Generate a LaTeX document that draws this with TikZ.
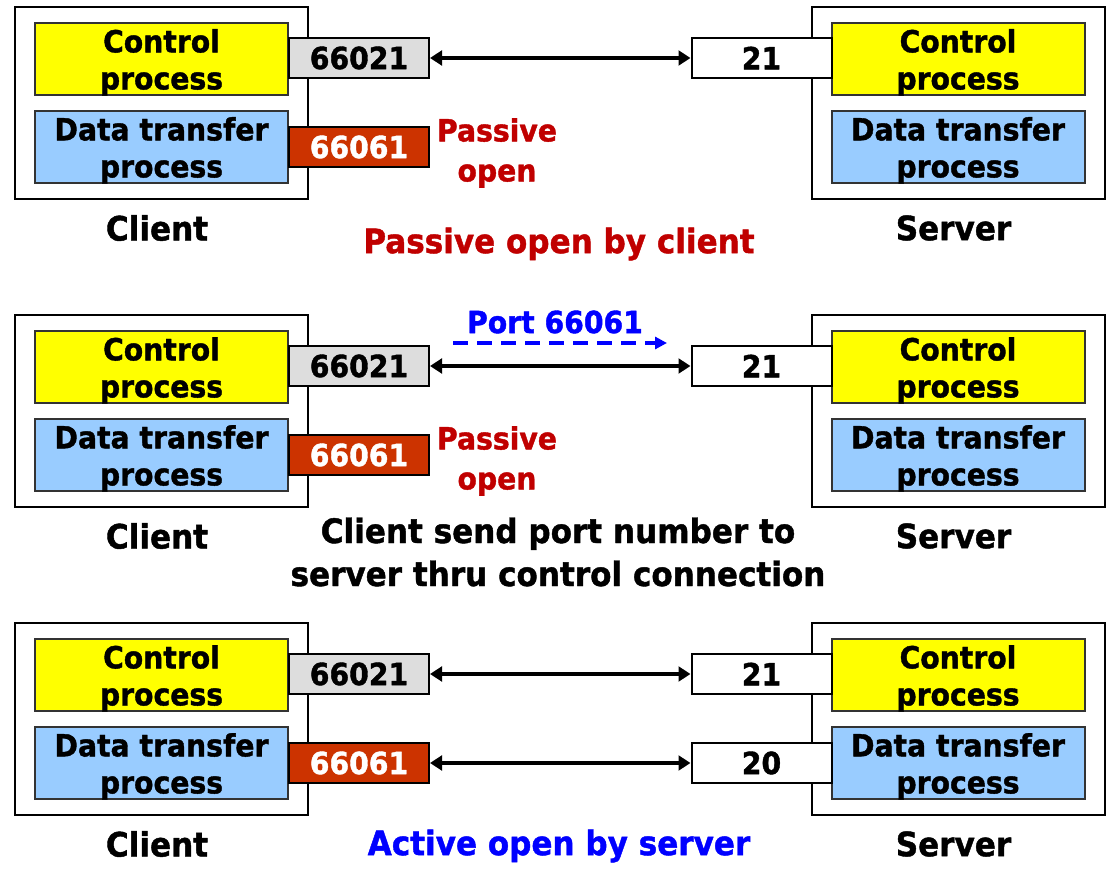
\documentclass[tikz,border=0pt]{standalone}
\usepackage{fontspec}
\setmainfont{DejaVu Sans}[BoldFeatures={FakeBold=1.3}]
\usepackage{graphicx}
\usetikzlibrary{arrows.meta}
\definecolor{ctrlyellow}{HTML}{FFFF00}
\definecolor{datablue}{HTML}{99CCFF}
\definecolor{portgray}{HTML}{DDDDDD}
\definecolor{portred}{HTML}{CC3300}
\definecolor{capred}{HTML}{C00000}
\definecolor{capblue}{HTML}{0000FF}
\newcommand\sv[1]{\scalebox{1}[1.08]{#1}}
\begin{document}
\begin{tikzpicture}[x=0.75pt,y=-0.75pt,
  outerbox/.style={draw=black,line width=1.6pt,minimum width=219.75pt,minimum height=144pt,inner sep=0pt},
  procbox/.style={draw=black!80,line width=1.5pt,minimum width=189.75pt,minimum height=54pt,inner sep=0pt},
  ctrlbox/.style={procbox,fill=ctrlyellow},
  databox/.style={procbox,fill=datablue},
  boxtxt/.style={font=\fontsize{21.2}{27.75}\selectfont\bfseries,align=center,inner sep=0pt,yshift=-2.6pt},
  portbox/.style={draw=black,line width=1.5pt,minimum width=105pt,minimum height=30pt,inner sep=0pt,font=\fontsize{21.2}{25}\selectfont\bfseries},
  greyport/.style={portbox,fill=portgray},
  redport/.style={portbox,fill=portred,text=white},
  whiteport/.style={portbox,fill=white},
  caption/.style={font=\fontsize{23.3}{32.25}\selectfont\bfseries,align=center,inner sep=0pt},
  smallcap/.style={font=\fontsize{21.2}{30}\selectfont\bfseries,align=center,inner sep=0pt},
  conn/.style={line width=2.4pt,{Triangle[length=9pt,width=11pt]}-{Triangle[length=9pt,width=11pt]}},
  portmsg/.style={draw=capblue,line width=3pt,dash pattern=on 11pt off 7pt,-{Triangle[length=9pt,width=9pt]}}
]
\useasboundingbox (0,0) rectangle (1114,873);
\foreach \p/\dy in {1/0,2/308,3/616}{
  % client
  \node[outerbox] (cl\p) at (161.5,{103+\dy}) {};
  \node[ctrlbox,label={[boxtxt]center:{\sv{Control}\\\sv{process}}}] (clc\p) at (161.5,{59+\dy}) {};
  \node[databox,label={[boxtxt]center:{\sv{Data transfer}\\\sv{process}}}] (cld\p) at (161.5,{147+\dy}) {};
  \node[greyport] (pc\p) at (359,{58+\dy}) {\sv{66021}};
  \node[redport] (pd\p) at (359,{147+\dy}) {\sv{66061}};
  \node[caption] (cln\p) at (157,{228+\dy}) {\sv{Client}};
  % server
  \node[outerbox] (sv\p) at (958.5,{103+\dy}) {};
  \node[ctrlbox,label={[boxtxt]center:{\sv{Control}\\\sv{process}}}] (svc\p) at (958,{59+\dy}) {};
  \node[databox,label={[boxtxt]center:{\sv{Data transfer}\\\sv{process}}}] (svd\p) at (958,{147+\dy}) {};
  \node[whiteport] (sc\p) at (761.5,{58+\dy}) {\sv{21}};
  \node[caption] (svn\p) at (953.5,{228+\dy}) {\sv{Server}};
  % control connection
  \draw[conn] (pc\p.east) -- (sc\p.west);
}
% panel 1
\node[smallcap,text=capred] (po1) at (497,153) {\sv{Passive}\\\sv{open}};
\node[caption,text=capred] (cap1) at (559,244) {\sv{Passive open by client}};
% panel 2
\node[smallcap,text=capred] (po2) at (497,461) {\sv{Passive}\\\sv{open}};
\node[smallcap,text=capblue] (portlbl) at (555,322) {\sv{Port 66061}};
\coordinate (msgA) at (453,343);
\coordinate (msgB) at (667,343);
\draw[portmsg] (msgA) -- (msgB);
\node[caption] (cap2) at (558,552) {\sv{Client send port number to}\\\sv{server thru control connection}};
% panel 3
\node[whiteport] (sd3) at (761.5,763) {\sv{20}};
\draw[conn] (pd3.east) -- (sd3.west);
\node[caption,text=capblue] (cap3) at (559,846) {\sv{Active open by server}};
\end{tikzpicture}
\end{document}
